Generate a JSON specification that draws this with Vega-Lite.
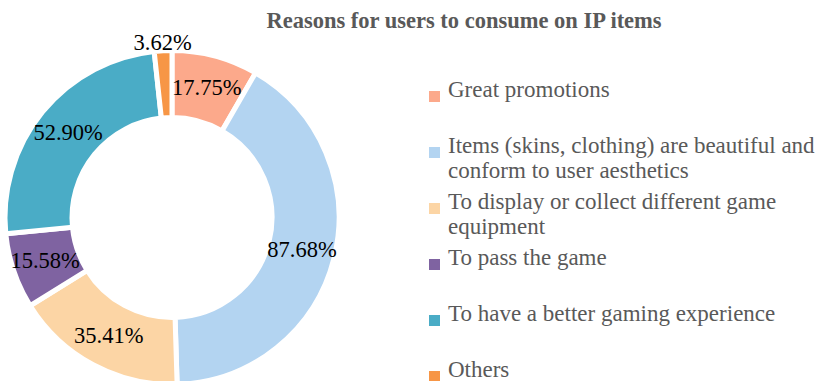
{
  "$schema": "https://vega.github.io/schema/vega-lite/v6.json",
  "autosize": {"type": "none"},
  "width": 344,
  "height": 327,
  "padding": {"left": 0, "top": 54, "right": 471, "bottom": 0},
  "background": "white",
  "title": {
    "text": "Reasons for users to consume on IP items",
    "font": "Liberation Serif",
    "fontSize": 22.5,
    "fontWeight": "bold",
    "color": "#595959",
    "anchor": "middle",
    "frame": "group",
    "dx": 292,
    "offset": -1
  },
  "data": {
    "values": [
      {"idx": 1, "reason": "Great promotions", "value": 17.75},
      {"idx": 2, "reason": "Items (skins, clothing) are beautiful and conform to user aesthetics", "value": 87.68},
      {"idx": 3, "reason": "To display or collect different game equipment", "value": 35.41},
      {"idx": 4, "reason": "To pass the game", "value": 15.58},
      {"idx": 5, "reason": "To have a better gaming experience", "value": 52.90},
      {"idx": 6, "reason": "Others", "value": 3.62}
    ]
  },
  "transform": [{"calculate": "format(datum.value, '.2f') + '%'", "as": "label"}],
  "encoding": {
    "theta": {"field": "value", "type": "quantitative", "stack": true},
    "order": {"field": "idx", "type": "quantitative"}
  },
  "layer": [
    {
      "mark": {"type": "arc", "outerRadius": 167, "innerRadius": 100, "stroke": "white", "strokeWidth": 5},
      "encoding": {
        "color": {
          "field": "reason",
          "type": "nominal",
          "scale": {
            "domain": [
              "Great promotions",
              "Items (skins, clothing) are beautiful and conform to user aesthetics",
              "To display or collect different game equipment",
              "To pass the game",
              "To have a better gaming experience",
              "Others"
            ],
            "range": ["#FCA98B", "#B3D4F1", "#FCD5A5", "#7F63A1", "#4AACC6", "#F79646"]
          },
          "legend": {
            "orient": "none",
            "legendX": 423,
            "legendY": 31,
            "title": null,
            "direction": "vertical",
            "symbolType": "square",
            "symbolSize": 121,
            "symbolStrokeWidth": 0,
            "labelFont": "Liberation Serif",
            "labelFontSize": 23,
            "labelColor": "#595959",
            "labelLimit": 420,
            "labelOffset": 2,
            "labelBaseline": "alphabetic",
            "labelLineHeight": 27.5,
            "rowPadding": 7,
            "gridAlign": "all",
            "labelExpr": "datum.label == 'Items (skins, clothing) are beautiful and conform to user aesthetics' ? ['Items (skins, clothing) are beautiful and', 'conform to user aesthetics'] : datum.label == 'To display or collect different game equipment' ? ['To display or collect different game', 'equipment'] : datum.label",
            "encode": {"labels": {"update": {"dy": {"value": 8}}}}
          }
        }
      }
    },
    {
      "mark": {"type": "text", "radius": 134, "font": "Liberation Serif", "fontSize": 22.5, "color": "black"},
      "encoding": {
        "detail": {"field": "reason", "type": "nominal"},
        "text": {"condition": {"test": "datum.idx != 6", "field": "label"}, "value": ""}
      }
    },
    {
      "mark": {"type": "text", "radius": 175, "font": "Liberation Serif", "fontSize": 22.5, "color": "black"},
      "encoding": {
        "detail": {"field": "reason", "type": "nominal"},
        "text": {"condition": {"test": "datum.idx == 6", "field": "label"}, "value": ""}
      }
    }
  ],
  "config": {"view": {"stroke": null}}
}
